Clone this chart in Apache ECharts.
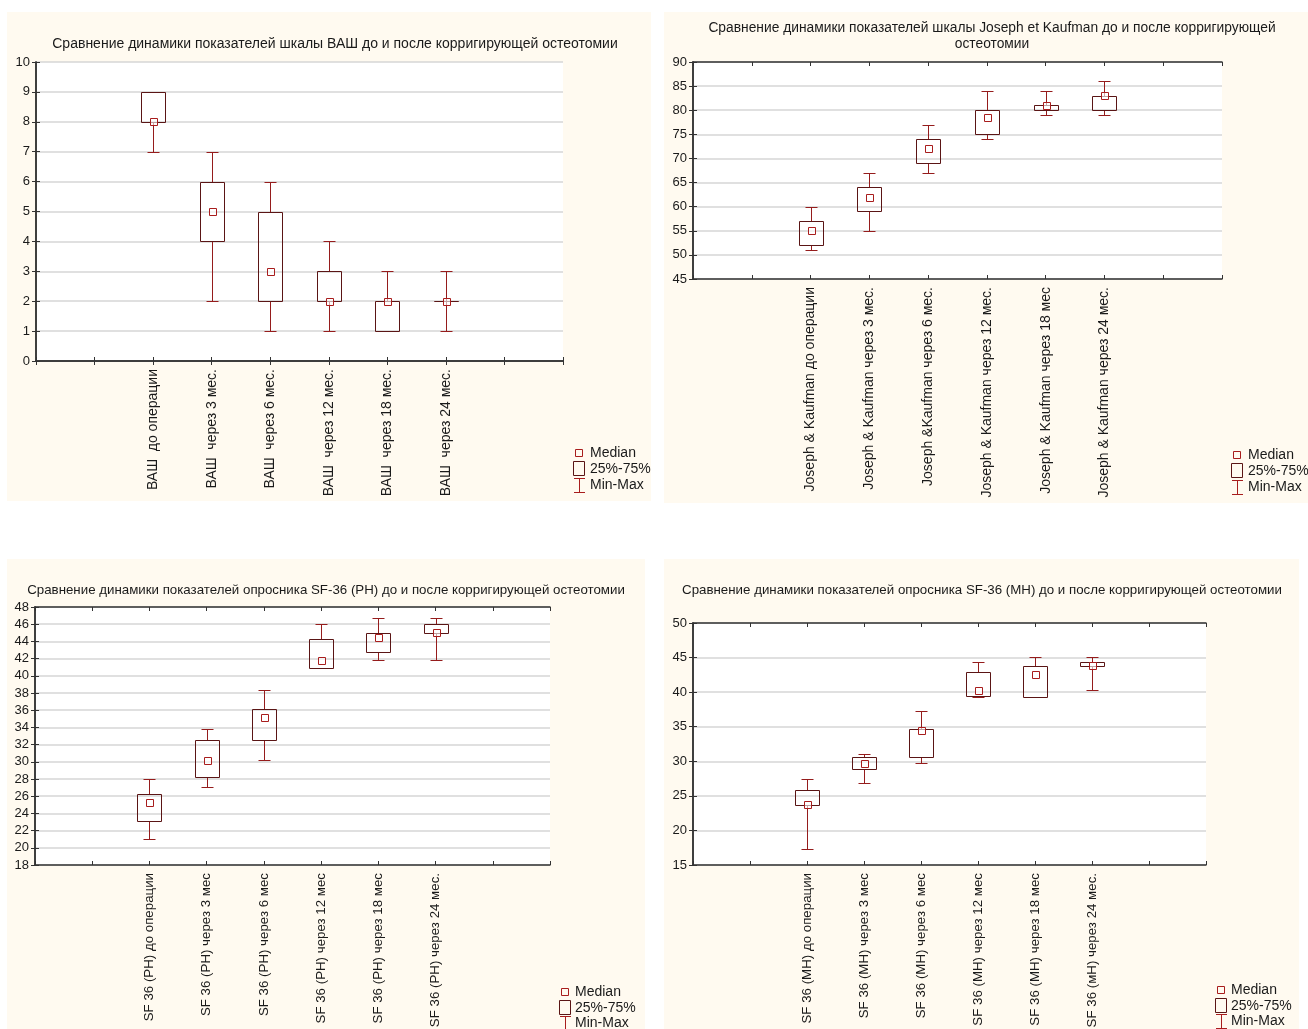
<!DOCTYPE html>
<html>
<head>
<meta charset="utf-8">
<script src="https://cdn.jsdelivr.net/npm/echarts@6/dist/echarts.min.js"></script>
<style>
  html, body { margin: 0; padding: 0; background: #ffffff; }
  body { width: 1308px; height: 1029px; position: relative; overflow: hidden; }
  .panel { position: absolute; background: #fffaf0; }
</style>
</head>
<body>
<div id="vas" class="panel" style="left:7px;top:12px;width:644px;height:489px;"></div>
<div id="jk" class="panel" style="left:664px;top:12px;width:644px;height:491px;"></div>
<div id="ph" class="panel" style="left:7px;top:559px;width:638px;height:470px;"></div>
<div id="mh" class="panel" style="left:664px;top:559px;width:635px;height:470px;"></div>
<script>
// ВАШ (visual analogue scale)
const vasCategories = ['ВАШ  до операции', 'ВАШ  через 3 мес.', 'ВАШ  через 6 мес.', 'ВАШ  через 12 мес.', 'ВАШ  через 18 мес.', 'ВАШ  через 24 мес.'];
const vasMin    = [7, 2, 1, 1, 1, 1];
const vasQ1     = [8, 4, 2, 2, 1, 2];
const vasMedian = [8, 5, 3, 2, 2, 2];
const vasQ3     = [9, 6, 5, 3, 2, 2];
const vasMax    = [9, 7, 6, 4, 3, 3];
const vasTicks  = { min: 0, max: 10, interval: 1 };

// Joseph & Kaufman score
const jkCategories = ['Joseph & Kaufman до операции', 'Joseph & Kaufman через 3 мес.', 'Joseph &Kaufman через 6 мес.', 'Joseph & Kaufman через 12 мес.', 'Joseph & Kaufman через 18 мес', 'Joseph & Kaufman через 24 мес.'];
const jkMin    = [51, 55, 67, 74, 79, 79];
const jkQ1     = [52, 59, 69, 75, 80, 80];
const jkMedian = [55, 62, 72, 78.5, 81, 83];
const jkQ3     = [57, 64, 74, 80, 81, 83];
const jkMax    = [60, 67, 77, 84, 84, 86];
const jkTicks  = { min: 45, max: 90, interval: 5 };

// SF-36 physical health
const phCategories = ['SF 36 (PH) до операции', 'SF 36 (PH) через 3 мес', 'SF 36 (PH) через 6 мес', 'SF 36 (PH) через 12 мес', 'SF 36 (PH) через 18 мес', 'SF 36 (PH) через 24 мес.'];
const phMin    = [21.0, 27.1, 30.2, 40.9, 41.8, 41.8];
const phQ1     = [23.1, 28.2, 32.5, 40.9, 42.8, 45.0];
const phMedian = [25.3, 30.2, 35.1, 41.8, 44.5, 45.0];
const phQ3     = [26.2, 32.5, 36.1, 44.3, 45.0, 46.0];
const phMax    = [28.0, 33.8, 38.3, 46.0, 46.7, 46.7];
const phTicks  = { min: 18, max: 48, interval: 2 };

// SF-36 mental health
const mhCategories = ['SF 36 (MH) до операции', 'SF 36 (MH) через 3 мес', 'SF 36 (MH) через 6 мес', 'SF 36 (MH) через 12 мес', 'SF 36 (MH) через 18 мес', 'SF 36 (мН) через 24 мес.'];
const mhMin    = [17.3, 26.8, 29.75, 39.3, 39.3, 40.3];
const mhQ1     = [23.7, 28.9, 30.6, 39.5, 39.3, 43.8];
const mhMedian = [23.8, 29.75, 34.5, 40.3, 42.5, 43.8];
const mhQ3     = [25.9, 30.6, 34.7, 42.9, 43.8, 44.4];
const mhMax    = [27.5, 31.1, 37.3, 44.4, 45.1, 45.1];
const mhTicks  = { min: 15, max: 50, interval: 5 };

const FONT = '"Liberation Sans", Arial, sans-serif';
const BOX_COLOR = '#5a1515';
const WHISKER_COLOR = '#951c1c';
const MEDIAN_COLOR = '#a81d1d';
const FIRST_SLOT = 2;   // boxes occupy slots 2..7 of a 0..9 axis
const SLOT_COUNT = 9;

function px(v) { return Math.round(v) + 0.5; }

function renderBox(params, api) {
  const x = api.value(0);
  const cx = px(api.coord([x, 0])[0]);
  const yMin = px(api.coord([x, api.value(1)])[1]);
  const yQ1 = px(api.coord([x, api.value(2)])[1]);
  const yMed = api.coord([x, api.value(3)])[1];
  const yQ3 = px(api.coord([x, api.value(4)])[1]);
  const yMax = px(api.coord([x, api.value(5)])[1]);
  const boxHalf = 12, capHalf = 6, medHalf = 3.5;
  const wStyle = { stroke: WHISKER_COLOR, lineWidth: 1, fill: null };
  return {
    type: 'group',
    children: [
      { type: 'line', shape: { x1: cx, y1: yMin, x2: cx, y2: yQ1 }, style: wStyle },
      { type: 'line', shape: { x1: cx, y1: yQ3, x2: cx, y2: yMax }, style: wStyle },
      { type: 'line', shape: { x1: cx - capHalf, y1: yMin, x2: cx + capHalf, y2: yMin }, style: wStyle },
      { type: 'line', shape: { x1: cx - capHalf, y1: yMax, x2: cx + capHalf, y2: yMax }, style: wStyle },
      { type: 'rect', shape: { x: cx - boxHalf, y: yQ3, width: boxHalf * 2, height: yQ1 - yQ3 },
        style: { stroke: BOX_COLOR, lineWidth: 1, fill: null } },
      { type: 'rect', shape: { x: Math.round(cx - medHalf) + 0.5, y: Math.round(yMed - medHalf) + 0.5, width: 7, height: 7 },
        style: { stroke: MEDIAN_COLOR, lineWidth: 1, fill: 'rgba(255,255,255,0.6)' } }
    ]
  };
}

function legendGraphics(iconX, textX, rowY) {
  const g = [];
  const s = { stroke: MEDIAN_COLOR, lineWidth: 1, fill: null };
  g.push({ type: 'rect', shape: { x: iconX - 3.5, y: rowY[0] - 3.5, width: 7, height: 7 }, style: s });
  g.push({ type: 'rect', shape: { x: iconX - 5.5, y: rowY[1] - 7.5, width: 11, height: 14 },
           style: { stroke: BOX_COLOR, lineWidth: 1, fill: null } });
  const t = rowY[2] - 6.5, b = rowY[2] + 7.5, c = iconX + 0.5;
  g.push({ type: 'polyline',
           shape: { points: [[iconX - 5, t], [iconX + 6, t], [c, t], [c, b], [iconX - 5, b], [iconX + 6, b]] },
           style: s });
  ['Median', '25%-75%', 'Min-Max'].forEach(function (txt, i) {
    g.push({ type: 'text', x: textX, y: rowY[i],
      style: { text: txt, fontSize: 14, fontFamily: FONT, fill: '#1a1a1a', verticalAlign: 'middle', align: 'left' } });
  });
  return g;
}

function buildChart(el, cfg) {
  const chart = echarts.init(document.getElementById(el), null, { renderer: 'canvas' });
  const data = cfg.categories.map(function (c, i) {
    return [FIRST_SLOT + i, cfg.min[i], cfg.q1[i], cfg.median[i], cfg.q3[i], cfg.max[i]];
  });
  const catLabel = function (v) {
    const idx = Math.round(v) - FIRST_SLOT;
    return cfg.categories[idx] !== undefined ? cfg.categories[idx] : '';
  };
  const frame = { show: true, lineStyle: { color: '#333333', width: 1.5 } };
  const tick = { show: true, inside: true, length: 4, lineStyle: { color: '#333333', width: 1 } };
  const xBase = { type: 'value', min: 0, max: SLOT_COUNT, interval: 1, axisLine: frame, axisTick: tick, splitLine: { show: false } };
  const yBase = { type: 'value', min: cfg.ticks.min, max: cfg.ticks.max, interval: cfg.ticks.interval, axisLine: frame, axisTick: tick };
  chart.setOption({
    animation: false,
    backgroundColor: 'transparent',
    title: {
      text: cfg.title,
      left: cfg.titleCenter,
      textAlign: 'center',
      top: cfg.titleTop,
      padding: 0,
      textStyle: { fontSize: cfg.titleSize, fontWeight: 'normal', color: '#1a1a1a', fontFamily: FONT, lineHeight: 16 }
    },
    grid: Object.assign({ show: true, backgroundColor: '#ffffff', borderWidth: 0, containLabel: false, outerBoundsMode: 'none' }, cfg.grid),
    xAxis: [
      Object.assign({}, xBase, { position: 'bottom',
        axisLabel: { rotate: 90, margin: 8, fontSize: cfg.labelSize, color: '#1a1a1a', fontFamily: FONT, formatter: catLabel, showMinLabel: true, showMaxLabel: true } }),
      Object.assign({}, xBase, { position: 'top', axisLabel: { show: false } })
    ],
    yAxis: [
      Object.assign({}, yBase, { position: 'left',
        axisLabel: { margin: 6, fontSize: 13, color: '#1a1a1a', fontFamily: FONT },
        splitLine: { show: true, lineStyle: { color: '#d6d6d6', width: 1.5 } } }),
      Object.assign({}, yBase, { position: 'right', axisLabel: { show: false }, splitLine: { show: false } })
    ],
    series: [{
      type: 'custom',
      renderItem: renderBox,
      data: data,
      encode: { x: 0, y: [1, 2, 3, 4, 5] },
      z: 5
    }],
    graphic: legendGraphics(cfg.legend.iconX, cfg.legend.textX, cfg.legend.rows)
  });
  return chart;
}

buildChart('vas', {
  title: 'Сравнение динамики показателей шкалы ВАШ до и после корригирующей остеотомии',
  titleTop: 24, titleCenter: 328, titleSize: 14, labelSize: 14,
  categories: vasCategories, min: vasMin, q1: vasQ1, median: vasMedian, q3: vasQ3, max: vasMax, ticks: vasTicks,
  grid: { left: 29, top: 50, width: 527, height: 299 },
  legend: { iconX: 572, textX: 583, rows: [441, 457, 473] }
});

buildChart('jk', {
  title: 'Сравнение динамики показателей шкалы Joseph et Kaufman до и после корригирующей\nостеотомии',
  titleTop: 8, titleCenter: 328, titleSize: 13.8, labelSize: 14,
  categories: jkCategories, min: jkMin, q1: jkQ1, median: jkMedian, q3: jkQ3, max: jkMax, ticks: jkTicks,
  grid: { left: 29, top: 50, width: 529, height: 217 },
  legend: { iconX: 573, textX: 584, rows: [443, 459, 475] }
});

buildChart('ph', {
  title: 'Сравнение динамики показателей опросника SF-36 (PH) до и после корригирующей остеотомии',
  titleTop: 23, titleCenter: 319, titleSize: 13.3, labelSize: 13.3,
  categories: phCategories, min: phMin, q1: phQ1, median: phMedian, q3: phQ3, max: phMax, ticks: phTicks,
  grid: { left: 28, top: 48, width: 515, height: 258 },
  legend: { iconX: 558, textX: 568, rows: [433, 449, 464] }
});

buildChart('mh', {
  title: 'Сравнение динамики показателей опросника SF-36 (MH) до и после корригирующей остеотомии',
  titleTop: 23, titleCenter: 318, titleSize: 13.3, labelSize: 13.3,
  categories: mhCategories, min: mhMin, q1: mhQ1, median: mhMedian, q3: mhQ3, max: mhMax, ticks: mhTicks,
  grid: { left: 29, top: 64, width: 513, height: 242 },
  legend: { iconX: 557, textX: 567, rows: [431, 447, 462] }
});
</script>
</body>
</html>
